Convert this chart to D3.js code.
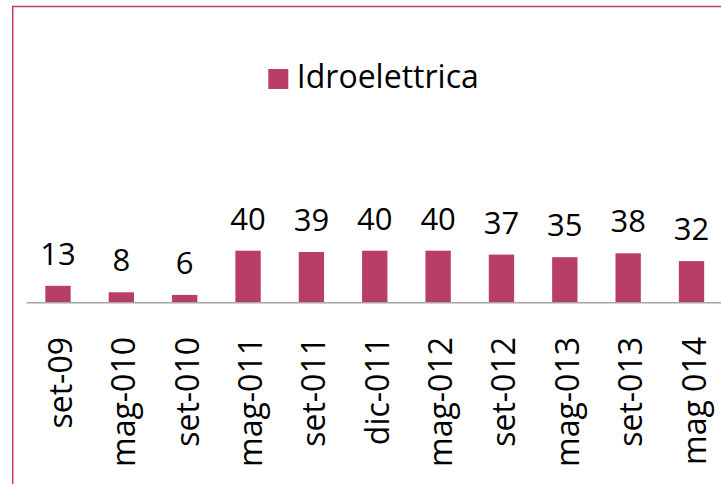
<!DOCTYPE html>
<html>
<head>
<meta charset="utf-8">
<script src="https://cdn.jsdelivr.net/npm/d3@7"></script>
<style>
  html, body { margin: 0; padding: 0; background: #fff; }
  svg { display: block; }
</style>
</head>
<body>
<div id="chart"></div>
<script>
const categories = ["set-09", "mag-010", "set-010", "mag-011", "set-011", "dic-011",
                    "mag-012", "set-012", "mag-013", "set-013", "mag 014"];
const values = [13, 8, 6, 40, 39, 40, 40, 37, 35, 38, 32];
const seriesName = "Idroelettrica";

const width = 721, height = 484;
const barColor = "#b93d69";
const fontFamily = "'Open Sans', sans-serif";
const baseY = 302.7;

const svg = d3.select("#chart")
  .append("svg")
    .attr("width", width)
    .attr("height", height);

// chart frame (cut off at right and bottom)
svg.append("rect")
  .attr("x", 12.7)
  .attr("y", 6.5)
  .attr("width", 900)
  .attr("height", 700)
  .attr("fill", "none")
  .attr("stroke", "#c7386b")
  .attr("stroke-width", 1.5);

const x = d3.scaleBand()
  .domain(categories)
  .range([26.3, 723.2])
  .paddingInner(0.6)
  .paddingOuter(0.3);

const y = d3.scaleLinear()
  .domain([0, 50])
  .range([baseY, baseY - 65]);

// bars
svg.selectAll("rect.bar")
  .data(values)
  .join("rect")
    .attr("class", "bar")
    .attr("x", (d, i) => x(categories[i]))
    .attr("y", d => y(d))
    .attr("width", x.bandwidth())
    .attr("height", d => y(0) - y(d))
    .attr("fill", barColor);

// category axis line
svg.append("line")
  .attr("x1", 26.7)
  .attr("x2", width)
  .attr("y1", baseY)
  .attr("y2", baseY)
  .attr("stroke", "#a6a6a6")
  .attr("stroke-width", 1.5);

// value labels
svg.selectAll("text.value")
  .data(values)
  .join("text")
    .attr("class", "value")
    .attr("x", (d, i) => x(categories[i]) + x.bandwidth() / 2)
    .attr("y", d => y(d) - 21)
    .attr("text-anchor", "middle")
    .attr("font-family", fontFamily)
    .attr("font-size", "31px")
    .attr("fill", "#000")
    .text(d => d);

// rotated category labels
svg.selectAll("text.cat")
  .data(categories)
  .join("text")
    .attr("class", "cat")
    .attr("transform", d => `translate(${x(d) + x.bandwidth() / 2 + 14}, 337) rotate(-90)`)
    .attr("text-anchor", "end")
    .attr("font-family", fontFamily)
    .attr("font-size", "32px")
    .attr("fill", "#000")
    .text(d => d);

// legend
const legend = svg.append("g")
  .attr("transform", "translate(268.3, 69)");
legend.append("rect")
  .attr("width", 20)
  .attr("height", 20)
  .attr("fill", barColor);
legend.append("text")
  .attr("x", 28.5)
  .attr("y", 18.7)
  .attr("font-family", fontFamily)
  .attr("font-size", "32px")
  .attr("fill", "#000")
  .text(seriesName);
</script>
</body>
</html>
